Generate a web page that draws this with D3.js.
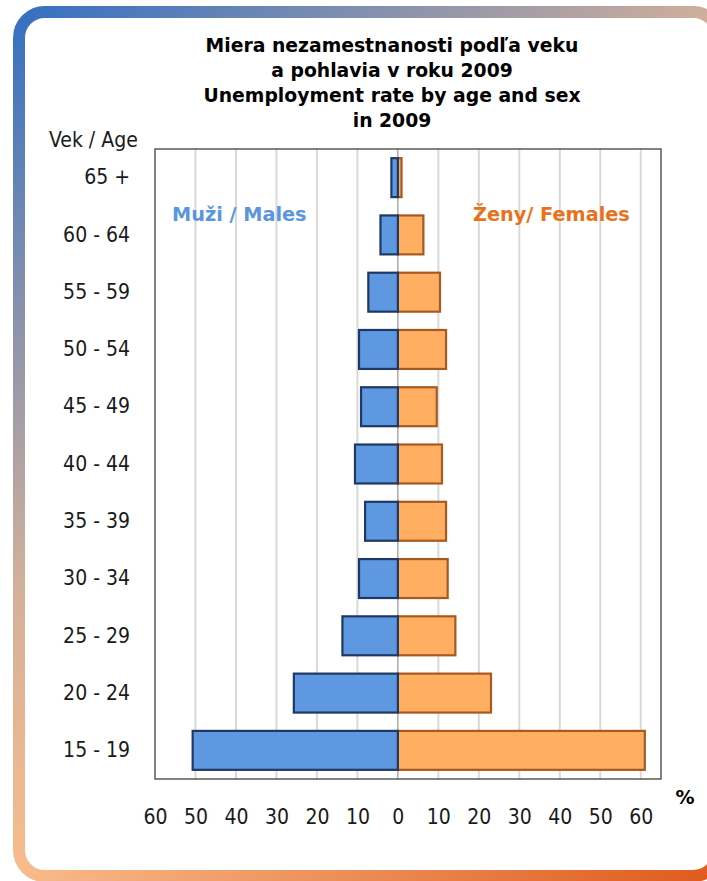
<!DOCTYPE html>
<html>
<head>
<meta charset="utf-8">
<script src="https://cdn.jsdelivr.net/npm/d3@7"></script>
<style>
  body { margin: 0; background: #fff; }
  text { font-family: "DejaVu Sans Condensed", "DejaVu Sans", sans-serif; font-stretch: condensed; }
  .bold { font-family: "DejaVu Sans", sans-serif; font-stretch: normal; font-weight: bold; }
</style>
</head>
<body>
<svg id="chart" width="707" height="881"></svg>
<script>
// age groups, top to bottom
let ages = ["65 +", "60 - 64", "55 - 59", "50 - 54", "45 - 49", "40 - 44",
  "35 - 39", "30 - 34", "25 - 29", "20 - 24", "15 - 19"]
// unemployment rate in %
let males = [1.6, 4.3, 7.3, 9.6, 9.1, 10.6, 8.1, 9.6, 13.7, 25.7, 50.7]
let females = [0.9, 6.3, 10.4, 11.9, 9.6, 10.9, 11.9, 12.3, 14.2, 23.0, 61.0]
let ticks = [-60, -50, -40, -30, -20, -10, 0, 10, 20, 30, 40, 50, 60]
let title_lines = ["Miera nezamestnanosti podľa veku", "a pohlavia v roku 2009",
  "Unemployment rate by age and sex", "in 2009"]

let margin = {top: 149, right: 46, bottom: 102, left: 155}
let width = 707, height = 881

let svg = d3.select("#chart")

let scales = {
  x: d3.scaleLinear()
    .domain([-60, 65])
    .range([margin.left, width - margin.right]),
  y: d3.scaleBand()
    .domain(ages)
    .range([margin.top, height - margin.bottom])
    .paddingInner(0.32)
    .paddingOuter(0.16)
}

// frame with gradient border
let grad = svg.append("defs").append("linearGradient")
  .attr("id", "frame")
  .attr("gradientUnits", "userSpaceOnUse")
  .attr("x1", 19).attr("y1", 12).attr("x2", 719).attr("y2", 876)
grad.selectAll("stop")
  .data([[0, "#3570c2"], [0.4, "#d3b09a"], [0.6, "#f8bc8c"], [1, "#df5a1c"]])
  .enter().append("stop")
  .attr("offset", d => d[0])
  .attr("stop-color", d => d[1])

svg.append("rect")
  .attr("x", 19).attr("y", 12)
  .attr("width", 700).attr("height", 864)
  .attr("rx", 26)
  .attr("fill", "#fff")
  .attr("stroke", "url(#frame)")
  .attr("stroke-width", 12)

// title
svg.append("text")
  .attr("class", "bold")
  .attr("text-anchor", "middle")
  .attr("font-size", 18.8)
  .attr("fill", "#000")
  .selectAll("tspan")
  .data(title_lines).enter()
  .append("tspan")
  .attr("x", 392)
  .attr("y", (d, i) => 52 + i * 25)
  .text(d => d)

// gridlines
let x0 = scales.x(0)
svg.append("g")
  .selectAll("line")
  .data(ticks.filter(d => d != 0 && d != -60)).enter()
  .append("line")
  .attr("x1", d => scales.x(d)).attr("x2", d => scales.x(d))
  .attr("y1", margin.top).attr("y2", height - margin.bottom)
  .attr("stroke", "#d9d9d9")
  .attr("stroke-width", 2)

// zero line
svg.append("line")
  .attr("x1", x0).attr("x2", x0)
  .attr("y1", margin.top).attr("y2", height - margin.bottom)
  .attr("stroke", "#7f7f7f")
  .attr("stroke-width", 1)

// plot border
svg.append("rect")
  .attr("x", margin.left).attr("y", margin.top)
  .attr("width", width - margin.right - margin.left)
  .attr("height", height - margin.bottom - margin.top)
  .attr("fill", "none")
  .attr("stroke", "#404040")
  .attr("stroke-width", 1.3)

// bars
svg.append("g")
  .selectAll("rect")
  .data(females).enter()
  .append("rect")
  .attr("x", x0)
  .attr("y", (d, i) => scales.y(ages[i]))
  .attr("width", d => scales.x(d) - x0)
  .attr("height", scales.y.bandwidth())
  .attr("fill", "#ffae62")
  .attr("stroke", "#a85a1e")
  .attr("stroke-width", 2.2)

svg.append("g")
  .selectAll("rect")
  .data(males).enter()
  .append("rect")
  .attr("x", d => scales.x(-d))
  .attr("y", (d, i) => scales.y(ages[i]))
  .attr("width", d => x0 - scales.x(-d))
  .attr("height", scales.y.bandwidth())
  .attr("fill", "#5d98e0")
  .attr("stroke", "#1f3864")
  .attr("stroke-width", 2.2)

// axes
let x_axis = d3.axisBottom(scales.x)
  .tickValues(ticks)
  .tickFormat(d => Math.abs(d))
  .tickSize(0)
  .tickPadding(0)
svg.append("g")
  .attr("transform", `translate(0, ${height - margin.bottom + 30})`)
  .call(x_axis)
  .call(g => g.select(".domain").remove())
  .selectAll("text")
  .attr("font-size", 21)
  .attr("font-family", null)
  .attr("fill", "#1a1a1a")

let y_axis = d3.axisLeft(scales.y)
  .tickSize(0)
  .tickPadding(0)
svg.append("g")
  .attr("transform", `translate(130, 0)`)
  .call(y_axis)
  .call(g => g.select(".domain").remove())
  .selectAll("text")
  .attr("font-size", 21)
  .attr("font-family", null)
  .attr("fill", "#1a1a1a")

// labels
svg.append("text")
  .attr("x", 49).attr("y", 147)
  .attr("font-size", 21)
  .attr("fill", "#1a1a1a")
  .text("Vek / Age")

svg.append("text")
  .attr("class", "bold")
  .attr("x", 685).attr("y", 804)
  .attr("text-anchor", "middle")
  .attr("font-size", 19)
  .text("%")

svg.append("text")
  .attr("class", "bold")
  .attr("x", 172).attr("y", 221)
  .attr("font-size", 19.3)
  .attr("fill", "#5b96dc")
  .text("Muži / Males")

svg.append("text")
  .attr("class", "bold")
  .attr("x", 473).attr("y", 221)
  .attr("font-size", 19.3)
  .attr("fill", "#e8721c")
  .text("Ženy/ Females")
</script>
</body>
</html>
